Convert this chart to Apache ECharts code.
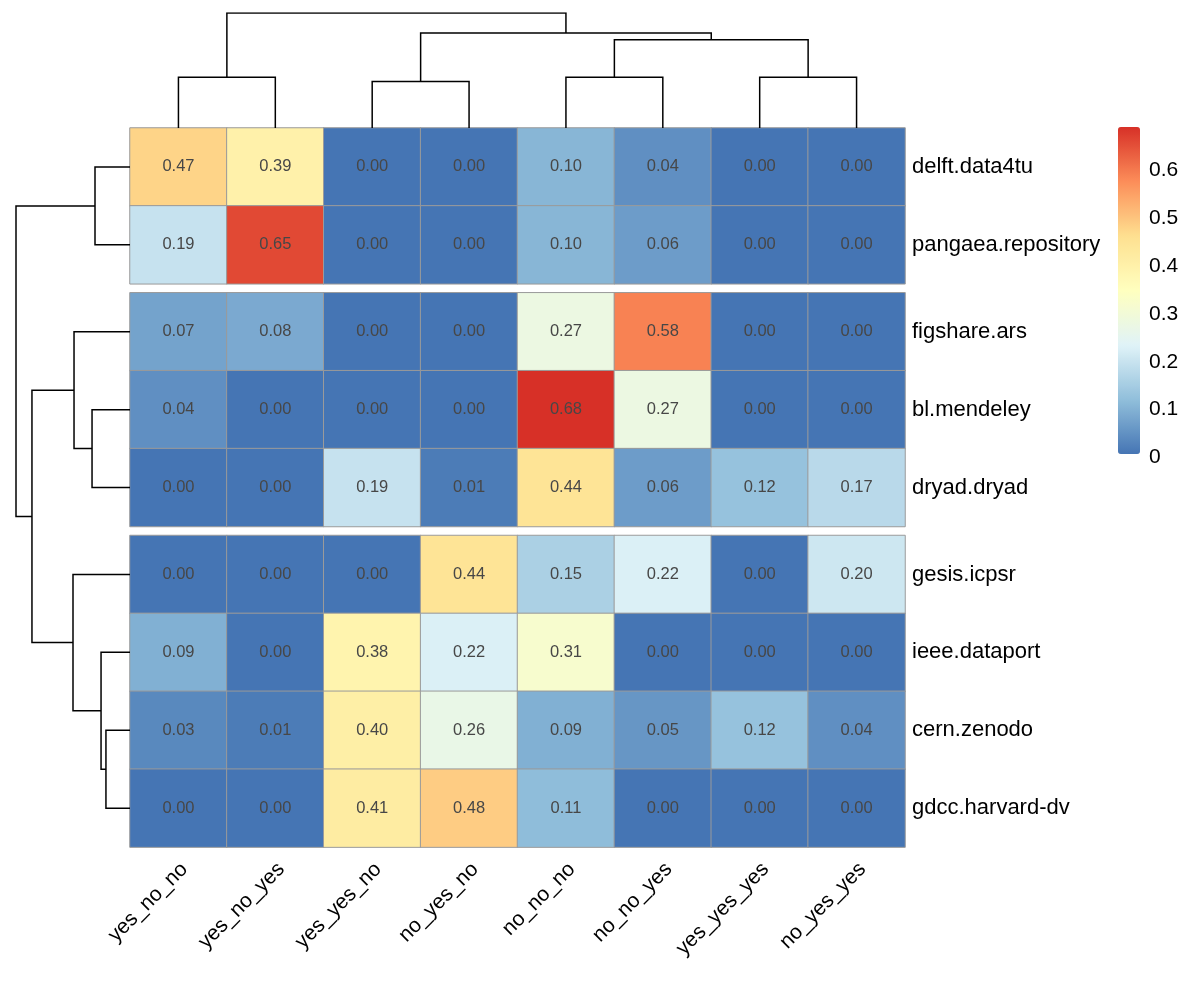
<!DOCTYPE html>
<html>
<head>
<meta charset="utf-8">
<script src="https://cdn.jsdelivr.net/npm/echarts@6/dist/echarts.min.js"></script>
<style>
html, body { margin: 0; background: #fff; }
#chart { width: 1200px; height: 985px; }
</style>
</head>
<body>
<div id="chart"></div>
<script>
// columns and rows in dendrogram (display) order
const columns = ['yes_no_no', 'yes_no_yes', 'yes_yes_no', 'no_yes_no', 'no_no_no', 'no_no_yes', 'yes_yes_yes', 'no_yes_yes'];
const rows = ['delft.data4tu', 'pangaea.repository', 'figshare.ars', 'bl.mendeley', 'dryad.dryad',
	'gesis.icpsr', 'ieee.dataport', 'cern.zenodo', 'gdcc.harvard-dv'];

const values = [
	[0.47, 0.39, 0.00, 0.00, 0.10, 0.04, 0.00, 0.00],
	[0.19, 0.65, 0.00, 0.00, 0.10, 0.06, 0.00, 0.00],
	[0.07, 0.08, 0.00, 0.00, 0.27, 0.58, 0.00, 0.00],
	[0.04, 0.00, 0.00, 0.00, 0.68, 0.27, 0.00, 0.00],
	[0.00, 0.00, 0.19, 0.01, 0.44, 0.06, 0.12, 0.17],
	[0.00, 0.00, 0.00, 0.44, 0.15, 0.22, 0.00, 0.20],
	[0.09, 0.00, 0.38, 0.22, 0.31, 0.00, 0.00, 0.00],
	[0.03, 0.01, 0.40, 0.26, 0.09, 0.05, 0.12, 0.04],
	[0.00, 0.00, 0.41, 0.48, 0.11, 0.00, 0.00, 0.00]
];

// row gaps (cutree groups) after these row counts
const gapsRow = [2, 5];

// hclust-style merges: negative = leaf (1-based display order), positive = earlier merge; third = height
const colMerges = [
	[-1, -2, 0.442],
	[-3, -4, 0.404],
	[-5, -6, 0.442],
	[-7, -8, 0.442],
	[3, 4, 0.767],
	[2, 5, 0.826],
	[1, 6, 1.0]
];
const rowMerges = [
	[-1, -2, 0.307],
	[-4, -5, 0.333],
	[-3, 2, 0.491],
	[-8, -9, 0.211],
	[-7, 4, 0.254],
	[-6, 5, 0.500],
	[3, 6, 0.860],
	[1, 7, 1.0]
];

const legendMax = 0.68;
const palette = ['#4575B4', '#91BFDB', '#E0F3F8', '#FFFFBF', '#FEE090', '#FC8D59', '#D73027'];

// layout
const heatLeft = 130, heatWidth = 775, heatTop = 128, rowH = 77.9, gapH = 9;
const font = 'Liberation Sans, Arial, sans-serif';

function gapsBefore(i)
{
	return gapsRow.filter((g) => i >= g).length;
}
function rowCenter(i)
{
	return (i + 0.5) * rowH + gapH * gapsBefore(i);
}
const totalH = rows.length * rowH + gapsRow.length * gapH;

function dendroSegments(merges, leafPos)
{
	const nodes = [];
	const segs = [];
	const at = (k) => k < 0 ? [leafPos(-k - 1), 0] : nodes[k - 1];
	merges.forEach(([a, b, h]) =>
	{
		const pa = at(a), pb = at(b);
		segs.push([[pa[0], pa[1]], [pa[0], h], [pb[0], h], [pb[0], pb[1]]]);
		nodes.push([(pa[0] + pb[0]) / 2, h]);
	});
	return segs;
}

const colSegs = dendroSegments(colMerges, (i) => i + 0.5);
const rowSegs = dendroSegments(rowMerges, (i) => rowCenter(i)).map((s) => s.map(([p, h]) => [h, p]));

// heatmap groups
const bounds = [0].concat(gapsRow, [rows.length]);
const grids = [], xAxes = [], yAxes = [], series = [];
for (let g = 0; g < bounds.length - 1; g++)
{
	const start = bounds[g], end = bounds[g + 1];
	grids.push({
		left: heatLeft, width: heatWidth,
		top: heatTop + start * rowH + g * gapH, height: (end - start) * rowH
	});
	xAxes.push({
		type: 'category', gridIndex: g, data: columns, show: false
	});
	yAxes.push({
		type: 'category', gridIndex: g, data: rows.slice(start, end), inverse: true, position: 'right',
		axisLine: { show: false }, axisTick: { show: false }, splitLine: { show: false },
		axisLabel: { margin: 7, fontSize: 22, color: '#000', fontFamily: font }
	});
	const data = [];
	for (let r = start; r < end; r++)
	{
		values[r].forEach((v, c) => data.push([c, r - start, v]));
	}
	series.push({
		type: 'heatmap', xAxisIndex: g, yAxisIndex: g, data: data,
		itemStyle: { borderColor: '#9A9A9A', borderWidth: 1 },
		label: {
			show: true, color: '#474747', fontSize: 16.5, fontFamily: font,
			formatter: (p) => p.value[2].toFixed(2)
		},
		emphasis: { disabled: true },
		silent: true
	});
}

// top (column) dendrogram
grids.push({ left: heatLeft, width: heatWidth, top: 13, height: heatTop - 13 });
xAxes.push({ type: 'value', gridIndex: 3, min: 0, max: columns.length, show: false });
yAxes.push({ type: 'value', gridIndex: 3, min: 0, max: 1, show: false });
series.push({
	type: 'lines', coordinateSystem: 'cartesian2d', polyline: true, xAxisIndex: 3, yAxisIndex: 3,
	data: colSegs.map((s) => ({ coords: s })),
	lineStyle: { color: '#000', width: 1.5, opacity: 1 }, silent: true
});

// left (row) dendrogram
grids.push({ left: 16, width: heatLeft - 16, top: heatTop, height: totalH });
xAxes.push({ type: 'value', gridIndex: 4, min: 0, max: 1, inverse: true, show: false });
yAxes.push({ type: 'value', gridIndex: 4, min: 0, max: totalH, inverse: true, show: false });
series.push({
	type: 'lines', coordinateSystem: 'cartesian2d', polyline: true, xAxisIndex: 4, yAxisIndex: 4,
	data: rowSegs.map((s) => ({ coords: s })),
	lineStyle: { color: '#000', width: 1.5, opacity: 1 }, silent: true
});

// colour bar tick labels
const barLeft = 1118, barTop = 127, barW = 22, barH = 327;
grids.push({ left: barLeft, width: barW, top: 132, height: 325.5 });
xAxes.push({ type: 'value', gridIndex: 5, show: false });
yAxes.push({
	type: 'value', gridIndex: 5, min: 0, max: legendMax, interval: 0.1, position: 'right',
	axisLine: { show: false }, axisTick: { show: false }, splitLine: { show: false },
	axisLabel: { margin: 9, fontSize: 21, color: '#000', fontFamily: font, showMaxLabel: false }
});

// column labels (rotated), nudged like the original
const lastTop = heatTop + bounds[bounds.length - 2] * rowH + (bounds.length - 2) * gapH;
grids.push({ left: heatLeft + 6, width: heatWidth, top: lastTop, height: totalH + heatTop - lastTop });
xAxes.push({
	type: 'category', gridIndex: 6, data: columns, position: 'bottom',
	axisLine: { show: false }, axisTick: { show: false }, splitLine: { show: false },
	axisLabel: { rotate: 45, interval: 0, margin: 19, fontSize: 21, color: '#000', fontFamily: font }
});
yAxes.push({ type: 'value', gridIndex: 6, show: false });

const chart = echarts.init(document.getElementById('chart'));
chart.setOption({
	animation: false,
	backgroundColor: '#fff',
	grid: grids,
	xAxis: xAxes,
	yAxis: yAxes,
	visualMap: {
		type: 'continuous', min: 0, max: legendMax, dimension: 2, seriesIndex: [0, 1, 2],
		inRange: { color: palette }, calculable: false, hoverLink: false,
		orient: 'vertical', left: barLeft, top: barTop, itemWidth: barW, itemHeight: barH,
		padding: 0, text: null
	},
	series: series
});
</script>
</body>
</html>
